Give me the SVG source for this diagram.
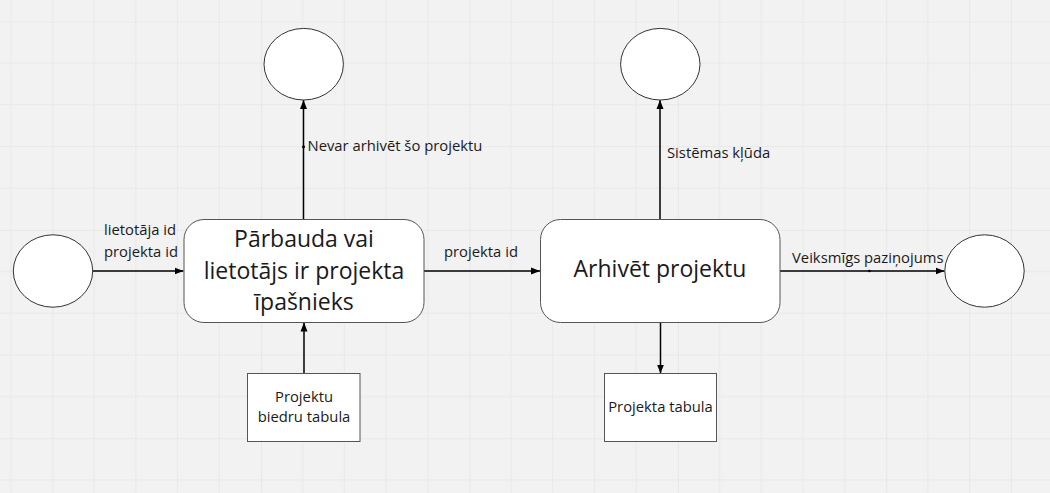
<svg xmlns="http://www.w3.org/2000/svg" width="1050" height="493" viewBox="0 0 1050 493">
<style>
.bg{fill:#f2f2f2}
.term{fill:#ffffff;stroke:#333333;stroke-width:1}
.proc{fill:#ffffff;stroke:#555555;stroke-width:1}
.store{fill:#ffffff;stroke:#555555;stroke-width:1}
.flow{fill:none;stroke:#000000;stroke-width:1.5}
.big{font-family:"Open Sans","Noto Sans",sans-serif;font-size:23px;fill:#1a1a1a;text-anchor:middle}
.lbl{font-family:"Open Sans","Noto Sans",sans-serif;font-size:14.8px;fill:#1a1a1a}
.mid{text-anchor:middle}
.dot{fill:#000000}
</style>
<defs>
<pattern id="grid" patternUnits="userSpaceOnUse" x="52.5" y="21.5" width="208.45" height="208.4">
<rect width="208.45" height="208.4" fill="#f2f2f2"/>
<g stroke="#e9e9e9" stroke-width="1">
<line x1="41.69" y1="0" x2="41.69" y2="208.4"/>
<line x1="83.38" y1="0" x2="83.38" y2="208.4"/>
<line x1="125.07" y1="0" x2="125.07" y2="208.4"/>
<line x1="166.76" y1="0" x2="166.76" y2="208.4"/>
<line x1="0" y1="41.68" x2="208.45" y2="41.68"/>
<line x1="0" y1="83.36" x2="208.45" y2="83.36"/>
<line x1="0" y1="125.04" x2="208.45" y2="125.04"/>
<line x1="0" y1="166.72" x2="208.45" y2="166.72"/>
</g>
<g stroke="#e0e0e0" stroke-width="1.2">
<line x1="0" y1="0" x2="0" y2="208.4"/>
<line x1="0" y1="0" x2="208.45" y2="0"/>
</g>
</pattern>
<marker id="arr" markerUnits="userSpaceOnUse" markerWidth="10" markerHeight="8" refX="9" refY="4" orient="auto">
<path d="M0,0.5 L9,4 L0,7.5 Z" fill="#000000"/>
</marker>
</defs>
<rect x="0" y="0" width="1050" height="493" fill="url(#grid)"/>

<g id="connectors">
<line class="flow" x1="93" y1="271" x2="183.5" y2="271" marker-end="url(#arr)"/>
<line class="flow" x1="424" y1="271" x2="540" y2="271" marker-end="url(#arr)"/>
<line class="flow" x1="780" y1="271" x2="944.5" y2="271" marker-end="url(#arr)"/>
<line class="flow" x1="303.5" y1="219.5" x2="303.5" y2="100" marker-end="url(#arr)"/>
<line class="flow" x1="660" y1="219.5" x2="660" y2="100" marker-end="url(#arr)"/>
<line class="flow" x1="304" y1="373.5" x2="304" y2="322.5" marker-end="url(#arr)"/>
<line class="flow" x1="660.5" y1="322.5" x2="660.5" y2="373.5" marker-end="url(#arr)"/>
<circle class="dot" cx="303.5" cy="146.7" r="1.5"/>
<circle class="dot" cx="869.5" cy="271" r="1.3"/>
<text class="lbl" x="104" y="234.7">lietotāja id</text>
<text class="lbl" x="104" y="256.7">projekta id</text>
<text class="lbl" x="444" y="256.7">projekta id</text>
<text class="lbl" x="792" y="263">Veiksmīgs paziņojums</text>
<text class="lbl" x="307.5" y="150.7">Nevar arhivēt šo projektu</text>
<text class="lbl" x="667" y="158">Sistēmas kļūda</text>
</g>

<g id="src">
<ellipse class="term" cx="53" cy="271" rx="39.7" ry="36.2"/>
</g>
<g id="err1">
<ellipse class="term" cx="303.7" cy="64.2" rx="39.7" ry="35.8"/>
</g>
<g id="err2">
<ellipse class="term" cx="660.3" cy="64.2" rx="39.7" ry="35.8"/>
</g>
<g id="ok">
<ellipse class="term" cx="984.5" cy="271" rx="39.7" ry="36.2"/>
</g>

<g id="check">
<rect class="proc" x="184" y="219.5" width="240" height="103" rx="20" ry="20"/>
<text class="big" x="304" y="247">Pārbauda vai</text>
<text class="big" x="304" y="278.7">lietotājs ir projekta</text>
<text class="big" x="304" y="310">īpašnieks</text>
</g>

<g id="archive">
<rect class="proc" x="540.5" y="219.5" width="239.5" height="103" rx="20" ry="20"/>
<text class="big" x="660" y="276.7">Arhivēt projektu</text>
</g>

<g id="members">
<rect class="store" x="247.5" y="373.5" width="112.5" height="68"/>
<text class="lbl mid" x="304" y="401.7">Projektu</text>
<text class="lbl mid" x="304" y="421.7">biedru tabula</text>
</g>

<g id="projects">
<rect class="store" x="604.5" y="373.5" width="112" height="68"/>
<text class="lbl mid" x="660.5" y="411.7">Projekta tabula</text>
</g>
</svg>
